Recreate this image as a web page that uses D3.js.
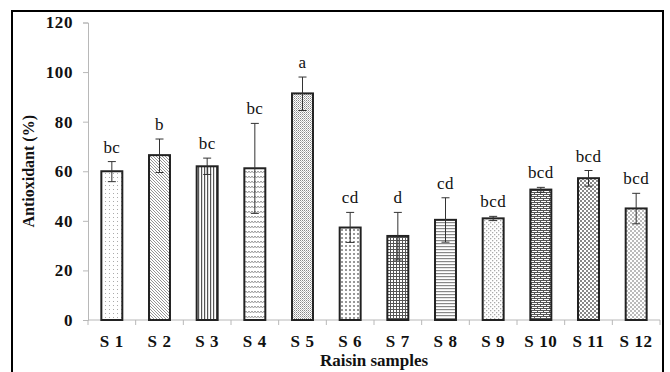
<!DOCTYPE html>
<html>
<head>
<meta charset="utf-8">
<script src="https://cdn.jsdelivr.net/npm/d3@7"></script>
<style>
  body { margin: 0; background: #fff; }
  svg { display: block; }
  .axis path, .axis line { stroke: #b8b8b8; }
  text { font-family: "Liberation Serif", "Times New Roman", serif; fill: #111; }
</style>
</head>
<body>
<div id="chart"></div>
<script>
// data
const samples = ["S 1", "S 2", "S 3", "S 4", "S 5", "S 6", "S 7", "S 8", "S 9", "S 10", "S 11", "S 12"];
const antioxidant = [60, 66.5, 62, 61.2, 91.4, 37.3, 33.9, 40.4, 41, 52.6, 57.2, 45];
const errHigh = [63.9, 73, 65.3, 79.3, 98, 43.4, 43.4, 49.3, 41.8, 53.5, 60.3, 51.1];
const errLow = [55.8, 59.5, 58.7, 43, 84.5, 31.3, 24.2, 31.4, 40.1, 51.5, 54, 38.8];
const letters = ["bc", "b", "bc", "bc", "a", "cd", "d", "cd", "bcd", "bcd", "bcd", "bcd"];
const yTicks = [0, 20, 40, 60, 80, 100, 120];

const width = 670, height = 372;
const margin = { top: 22.5, bottom: 52, left: 88, right: 10 };

const svg = d3.select("#chart").append("svg")
  .attr("width", width)
  .attr("height", height);

// hatch patterns, one per bar
const defs = svg.append("defs");
function pat(id, w, h, draw) {
  const p = defs.append("pattern")
    .attr("id", id)
    .attr("patternUnits", "userSpaceOnUse")
    .attr("width", w).attr("height", h);
  p.append("rect").attr("width", w).attr("height", h).attr("fill", "#fff");
  draw(p);
}
pat("p0", 4, 4, p => { p.append("rect").attr("x", 1).attr("y", 1).attr("width", 1).attr("height", 1).attr("fill", "#aaa"); });
pat("p1", 3, 3, p => {
  p.append("path").attr("d", "M0,0 L3,3 M-1,2 L1,4 M2,-1 L4,1").attr("stroke", "#888").attr("stroke-width", 0.9);
});
pat("p2", 3, 3, p => { p.append("rect").attr("x", 0).attr("width", 1.2).attr("height", 3).attr("fill", "#555"); });
pat("p3", 6, 5, p => {
  p.append("path").attr("d", "M0,1 L1.5,3 L3,1 L4.5,3 L6,1").attr("fill", "none").attr("stroke", "#999").attr("stroke-width", 1);
});
pat("p4", 2, 2, p => {
  p.append("rect").attr("width", 1).attr("height", 1).attr("fill", "#888");
  p.append("rect").attr("x", 1).attr("y", 1).attr("width", 1).attr("height", 1).attr("fill", "#bbb");
});
pat("p5", 4, 4, p => { p.append("rect").attr("x", 1).attr("y", 1).attr("width", 2).attr("height", 2).attr("fill", "#999"); });
pat("p6", 3, 3, p => {
  p.append("rect").attr("width", 3).attr("height", 1).attr("fill", "#555");
  p.append("rect").attr("width", 1).attr("height", 3).attr("fill", "#555");
});
pat("p7", 3, 3, p => { p.append("rect").attr("width", 3).attr("height", 1.2).attr("fill", "#888"); });
pat("p8", 4, 4, p => {
  p.append("rect").attr("x", 0).attr("y", 0).attr("width", 1.3).attr("height", 1.3).attr("fill", "#aaa");
  p.append("rect").attr("x", 2).attr("y", 2).attr("width", 1.3).attr("height", 1.3).attr("fill", "#aaa");
});
pat("p9", 6, 4, p => {
  p.append("rect").attr("width", 6).attr("height", 1).attr("fill", "#555");
  p.append("rect").attr("y", 2).attr("width", 6).attr("height", 1).attr("fill", "#555");
  p.append("rect").attr("x", 0).attr("y", 0).attr("width", 1).attr("height", 2).attr("fill", "#555");
  p.append("rect").attr("x", 3).attr("y", 2).attr("width", 1).attr("height", 2).attr("fill", "#555");
});
pat("p10", 4, 4, p => {
  p.append("rect").attr("width", 2).attr("height", 2).attr("fill", "#888");
  p.append("rect").attr("x", 2).attr("y", 2).attr("width", 2).attr("height", 2).attr("fill", "#888");
});
pat("p11", 4, 4, p => {
  p.append("rect").attr("width", 2).attr("height", 2).attr("fill", "#bbb");
  p.append("rect").attr("x", 2).attr("y", 2).attr("width", 2).attr("height", 2).attr("fill", "#bbb");
});

// outer frame
svg.append("rect")
  .attr("x", 12).attr("y", 11)
  .attr("width", 651).attr("height", 380)
  .attr("fill", "none")
  .attr("stroke", "#000")
  .attr("stroke-width", 2);

const x = d3.scaleBand()
  .domain(samples)
  .range([margin.left, 660])
  .paddingInner(0.56)
  .paddingOuter(0.28);

const y = d3.scaleLinear()
  .domain([0, 120])
  .range([height - margin.bottom, margin.top]);

// axes
const yAxis = svg.append("g")
  .attr("class", "axis")
  .attr("transform", `translate(${margin.left},0)`)
  .call(d3.axisLeft(y).tickValues(yTicks).tickSize(5).tickPadding(10));
yAxis.selectAll("text")
  .attr("font-size", "17px").attr("font-weight", "bold")
  .attr("letter-spacing", "0.6px")
  .attr("font-family", "Liberation Serif");

const xAxis = svg.append("g")
  .attr("class", "axis")
  .attr("transform", `translate(0,${y(0)})`)
  .call(d3.axisBottom(x).tickSize(0).tickPadding(15));
xAxis.selectAll("text")
  .attr("font-size", "17px").attr("font-weight", "bold")
  .attr("letter-spacing", "0.6px")
  .attr("font-family", "Liberation Serif");
xAxis.select(".domain").attr("d", `M${margin.left},0H660`);

// tick marks between categories
const step = (660 - margin.left) / samples.length;
xAxis.selectAll(".sep")
  .data(d3.range(samples.length + 1))
  .enter().append("line")
  .attr("class", "sep")
  .attr("x1", i => margin.left + i * step)
  .attr("x2", i => margin.left + i * step)
  .attr("y1", 0).attr("y2", 5)
  .attr("stroke", "#b8b8b8");

// bars
svg.selectAll("rect.bar")
  .data(samples)
  .enter().append("rect")
  .attr("class", "bar")
  .attr("x", d => x(d))
  .attr("y", (d, i) => y(antioxidant[i]))
  .attr("width", x.bandwidth())
  .attr("height", (d, i) => y(0) - y(antioxidant[i]))
  .attr("fill", (d, i) => `url(#p${i})`)
  .attr("stroke", "#222")
  .attr("stroke-width", 2);

// error bars
const eb = svg.selectAll("g.err")
  .data(samples)
  .enter().append("g")
  .attr("class", "err")
  .attr("stroke", "#333")
  .attr("stroke-width", 1);
eb.append("line")
  .attr("x1", d => x(d) + x.bandwidth() / 2)
  .attr("x2", d => x(d) + x.bandwidth() / 2)
  .attr("y1", (d, i) => y(errHigh[i]))
  .attr("y2", (d, i) => y(errLow[i]));
eb.append("line")
  .attr("x1", d => x(d) + x.bandwidth() / 2 - 4)
  .attr("x2", d => x(d) + x.bandwidth() / 2 + 4)
  .attr("y1", (d, i) => y(errHigh[i]))
  .attr("y2", (d, i) => y(errHigh[i]));
eb.append("line")
  .attr("x1", d => x(d) + x.bandwidth() / 2 - 4)
  .attr("x2", d => x(d) + x.bandwidth() / 2 + 4)
  .attr("y1", (d, i) => y(errLow[i]))
  .attr("y2", (d, i) => y(errLow[i]));

// significance letters
svg.selectAll("text.letter")
  .data(samples)
  .enter().append("text")
  .attr("class", "letter")
  .attr("x", d => x(d) + x.bandwidth() / 2)
  .attr("y", (d, i) => y(errHigh[i]) - 9)
  .attr("text-anchor", "middle")
  .attr("font-size", "17px")
  .attr("letter-spacing", "0.4px")
  .text((d, i) => letters[i]);

// axis titles
svg.append("text")
  .attr("x", (margin.left + 660) / 2)
  .attr("y", 366)
  .attr("text-anchor", "middle")
  .attr("font-size", "17px")
  .attr("font-weight", "bold")
  .text("Raisin samples");

svg.append("text")
  .attr("transform", `translate(34,${(y(0) + y(120)) / 2}) rotate(-90)`)
  .attr("text-anchor", "middle")
  .attr("font-size", "16px")
  .attr("font-weight", "bold")
  .text("Antioxidant (%)");
</script>
</body>
</html>
